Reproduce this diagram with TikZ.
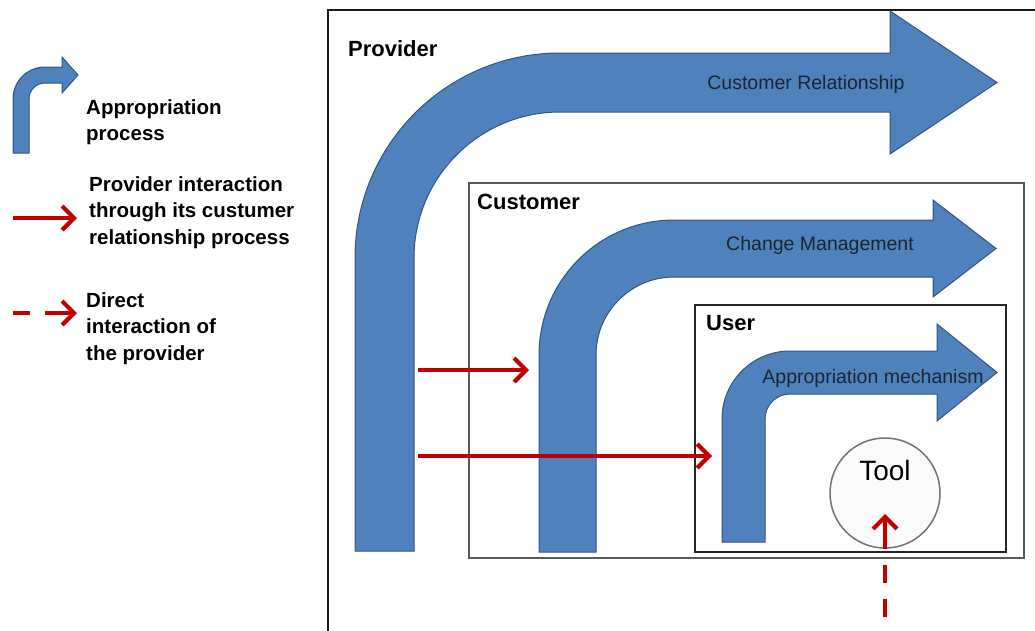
\documentclass[tikz,border=0pt]{standalone}
\usepackage{fontspec}
\setmainfont{Liberation Sans}
\usetikzlibrary{arrows.meta}

\definecolor{procblue}{HTML}{4F81BD}
\definecolor{procedge}{HTML}{34557F}
\definecolor{linkred}{HTML}{C00000}
\definecolor{labelink}{HTML}{1C2530}

\tikzset{
  process/.style={fill=procblue, draw=procedge, line width=1pt, line join=miter},
  layerbox/.style={draw=#1, line width=1.8pt},
  layername/.style={font=\fontsize{22}{26}\selectfont\bfseries, anchor=north west, inner sep=0pt},
  legendtext/.style={font=\fontsize{20.5}{26.5}\selectfont\bfseries, align=left, anchor=north west, inner sep=0pt},
  proclabel/.style={font=\fontsize{19.5}{22}\selectfont, text=labelink, inner sep=0pt},
  barb/.tip={Straight Barb[length=12pt,width=24pt,line width=4.2pt]},
  link/.style={draw=linkred, line width=4.5pt, -barb},
  % drawn from the tip backwards, so the dashes line up with the head
  directlink/.style={draw=linkred, line width=4.5pt, barb-, dash pattern=#1},
  toolshape/.style={circle, fill=black!2, draw=black!55, line width=1.5pt, minimum size=110pt, inner sep=0pt},
}

% bent process arrow: stem left, width, bottom, shaft top, outer radius,
% head base, head overhang, tip
\newcommand\bentprocess[8]{%
  \path[process] (#1,#3) -- (#1,#4+#5)
    arc[start angle=180, end angle=270, radius=#5]
    -- (#6,#4) -- (#6,#4-#7) -- (#8,#4+#2/2) -- (#6,#4+#2+#7) -- (#6,#4+#2)
    -- (#1+#5,#4+#2)
    arc[start angle=270, end angle=180, radius=#5-#2]
    -- (#1+#2,#3) -- cycle;}

\begin{document}
\begin{tikzpicture}[x=1pt, y=-1pt]
  \clip (0,0) rectangle (1035,630);
  \fill[white] (0,0) rectangle (1035,630);

  % ---- legend ----
  \bentprocess{13}{16}{153}{67}{32}{62}{10}{78}
  \node[legendtext] (legproc) at (86,99) {Appropriation\\process};
  \coordinate (legA1) at (13,218);
  \coordinate (legA2) at (77,218);
  \draw[link] (legA1) -- (legA2);
  \node[legendtext] (leglink) at (89,176) {Provider interaction\\through its custumer\\relationship process};
  \coordinate (legB1) at (13,313);
  \coordinate (legB2) at (77,313);
  \draw[directlink={on 27pt off 15pt on 22pt off 40pt}] (legB2) -- (legB1);
  \node[legendtext] (legdirect) at (86,292) {Direct\\interaction of\\the provider};

  % ---- provider layer ----
  \draw[layerbox=black!90] (1040,10) -- (328,10) -- (328,640);
  \node[layername] (provider) at (348,40) {Provider};
  \bentprocess{355}{59}{551}{53}{205}{890}{42}{997}
  \node[proclabel] (crel) at (806,84) {Customer Relationship};

  % ---- customer layer ----
  \draw[layerbox=black!65] (469,183) rectangle (1024,558);
  \node[layername] (customer) at (477,194) {Customer};
  \bentprocess{539}{57}{552}{220}{135}{933}{20}{996}
  \node[proclabel] (chmgmt) at (820,245) {Change Management};

  % ---- user layer ----
  \draw[layerbox=black!85] (695,305) rectangle (1006,552);
  \node[layername] (user) at (706,315) {User};
  \bentprocess{722}{43}{542}{351}{68}{937}{27}{997}
  \node[proclabel] (appmech) at (873,378) {Appropriation mechanism};

  % ---- tool ----
  \node[toolshape] (tool) at (885,493) {};
  \node[font=\fontsize{28}{30}\selectfont, inner sep=0pt] (toollabel) at (885,470) {Tool};

  % ---- interactions ----
  \coordinate (provout1) at (418,370);
  \coordinate (custin) at (529,370);
  \coordinate (provout2) at (418,456);
  \coordinate (userin) at (712,456);
  \draw[link] (provout1) -- (custin);
  \draw[link] (provout2) -- (userin);
  \coordinate (directsrc) at (885,617);
  \coordinate (toolin) at (885,514);
  \draw[directlink={on 30pt off 16pt on 18pt off 16pt on 18pt off 60pt}] (toolin) -- (directsrc);
\end{tikzpicture}
\end{document}
